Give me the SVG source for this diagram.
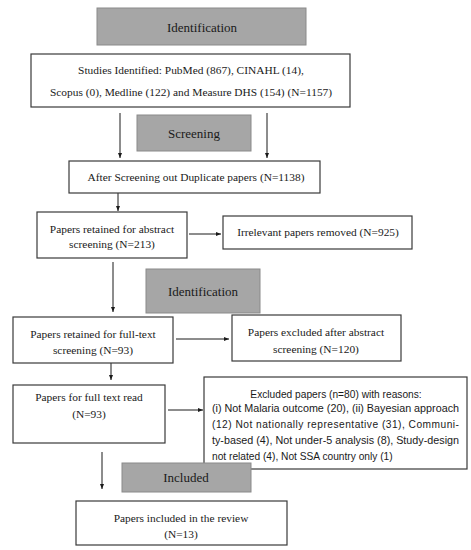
<svg xmlns="http://www.w3.org/2000/svg" width="471" height="550" viewBox="0 0 471 550">
<style>
.box{fill:#fff;stroke:#3a3a3a;stroke-width:1.2}
.hdr{fill:#a6a6a6;stroke:#8a8a8a;stroke-width:1}
.t{font-family:"Liberation Serif","Times New Roman",serif;font-size:11.4px;fill:#1a1a1a;text-anchor:middle}
.h{font-family:"Liberation Serif","Times New Roman",serif;font-size:13px;fill:#1a1a1a;text-anchor:middle}
.s{font-family:"Liberation Sans",Arial,sans-serif;font-size:10.2px;fill:#1a1a1a}
.c{stroke:#1a1a1a;stroke-width:1;fill:none;marker-end:url(#ah)}
</style>
<defs>
<marker id="ah" viewBox="0 0 10 10" refX="10" refY="5" markerWidth="5" markerHeight="5" orient="auto" markerUnits="userSpaceOnUse">
<path d="M0,1 L10,5 L0,9 z" fill="#1a1a1a"/>
</marker>
</defs>
<rect width="471" height="550" fill="#fff"/>
<g id="connectors">
<line class="c" x1="120" y1="113" x2="120" y2="158"/>
<line class="c" x1="267" y1="113" x2="267" y2="158"/>
<line class="c" x1="118" y1="193" x2="118" y2="211"/>
<line class="c" x1="189" y1="234" x2="221" y2="234"/>
<line class="c" x1="113" y1="262" x2="113" y2="312"/>
<line class="c" x1="176" y1="339" x2="229" y2="339"/>
<line class="c" x1="111" y1="363" x2="111" y2="380"/>
<line class="c" x1="168" y1="410" x2="203" y2="410"/>
<line class="c" x1="102" y1="452" x2="102" y2="489"/>
</g>
<g id="identification1">
<rect class="hdr" x="97" y="8" width="209" height="37"/>
<text class="h" x="202" y="32">Identification</text>
</g>
<g id="studies">
<rect class="box" x="31" y="54" width="319" height="53"/>
<text class="t" x="191" y="74">Studies Identified: PubMed (867), CINAHL (14),</text>
<text class="t" x="191" y="96">Scopus (0), Medline (122) and Measure DHS (154) (N=1157)</text>
</g>
<g id="screening">
<rect class="hdr" x="137" y="115" width="114" height="36"/>
<text class="h" x="194" y="138">Screening</text>
</g>
<g id="after-duplicates">
<rect class="box" x="69" y="161" width="251" height="32"/>
<text class="t" x="196" y="181">After Screening out Duplicate papers (N=1138)</text>
</g>
<g id="abstract-screening">
<rect class="box" x="37" y="212" width="150" height="46"/>
<text class="t" x="112" y="233">Papers retained for abstract</text>
<text class="t" x="112" y="248">screening (N=213)</text>
</g>
<g id="irrelevant">
<rect class="box" x="223" y="216" width="189" height="33"/>
<text class="t" x="318" y="236">Irrelevant papers removed (N=925)</text>
</g>
<g id="identification2">
<rect class="hdr" x="146" y="269" width="114" height="44"/>
<text class="h" x="203" y="296">Identification</text>
</g>
<g id="full-text-screening">
<rect class="box" x="13" y="317" width="160" height="46"/>
<text class="t" x="93" y="338">Papers retained for full-text</text>
<text class="t" x="93" y="354">screening (N=93)</text>
</g>
<g id="excluded-abstract">
<rect class="box" x="232" y="315" width="169" height="46"/>
<text class="t" x="316" y="336">Papers excluded after abstract</text>
<text class="t" x="316" y="353">screening (N=120)</text>
</g>
<g id="full-text-read">
<rect class="box" x="13" y="385" width="152" height="58"/>
<text class="t" x="89" y="401">Papers for full text read</text>
<text class="t" x="89" y="418">(N=93)</text>
</g>
<g id="excluded-reasons">
<rect class="box" x="204" y="377" width="263" height="92"/>
<text class="s" x="336" y="398" text-anchor="middle">Excluded papers (n=80) with reasons:</text>
<text class="s" x="212" y="412" textLength="247" lengthAdjust="spacingAndGlyphs">(i) Not Malaria outcome (20), (ii) Bayesian approach</text>
<text class="s" x="212" y="428" textLength="247" lengthAdjust="spacing">(12) Not nationally representative (31), Communi-</text>
<text class="s" x="212" y="444" textLength="247" lengthAdjust="spacingAndGlyphs">ty-based (4), Not under-5 analysis (8), Study-design</text>
<text class="s" x="212" y="460">not related (4), Not SSA country only (1)</text>
</g>
<g id="included">
<rect class="hdr" x="122" y="463" width="129" height="29"/>
<text class="h" x="186" y="482">Included</text>
</g>
<g id="final">
<rect class="box" x="76" y="501" width="211" height="44"/>
<text class="t" x="181" y="522">Papers included in the review</text>
<text class="t" x="181" y="538">(N=13)</text>
</g>
</svg>
